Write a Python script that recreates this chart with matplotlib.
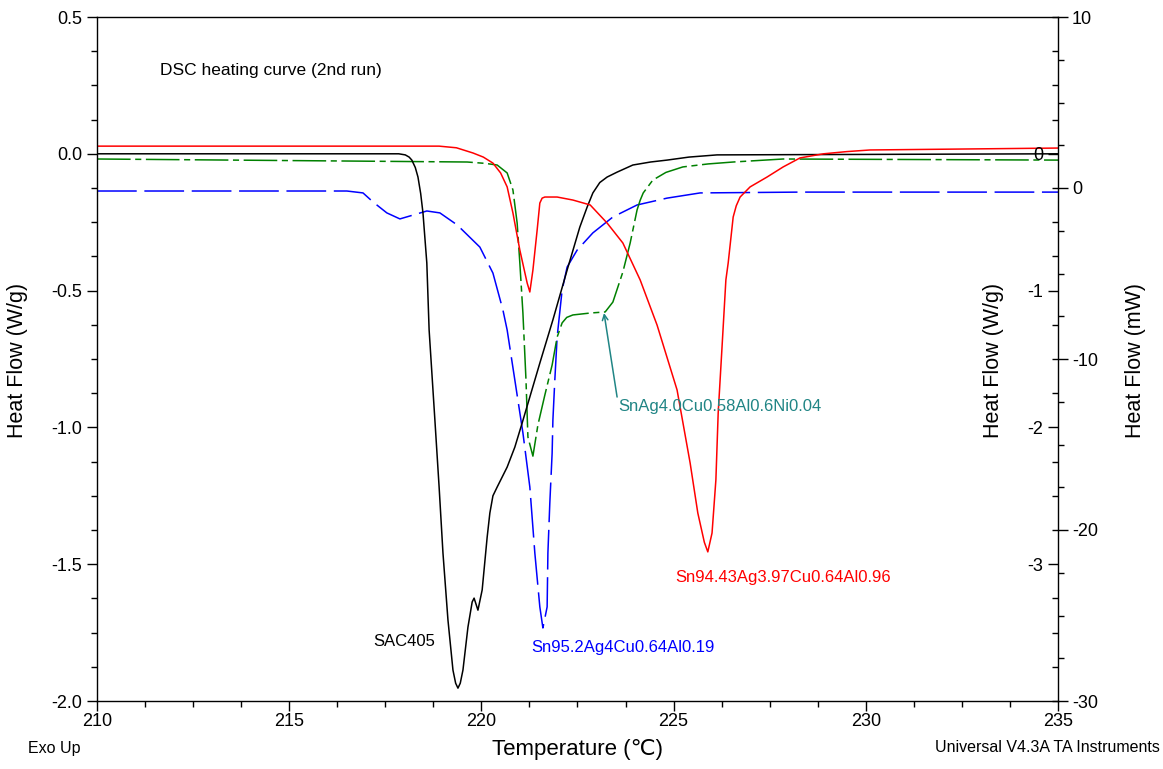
import matplotlib
matplotlib.use('Agg')
import matplotlib.pyplot as plt
from matplotlib.ticker import MultipleLocator

plt.rcParams['font.family'] = ['Liberation Sans', 'DejaVu Sans']
plt.rcParams['axes.unicode_minus'] = False

# SAC405 (black, solid)
sac_temp = [210.0, 217.85, 218.02, 218.12, 218.19, 218.28, 218.35, 218.42, 218.48, 218.58,
            218.64, 218.79, 218.90, 219.00, 219.13, 219.26, 219.33, 219.39, 219.45, 219.52,
            219.65, 219.76, 219.81, 219.91, 220.02, 220.15, 220.22, 220.30, 220.41, 220.67,
            220.87, 221.06, 221.52, 221.86, 222.23, 222.56, 222.75, 222.90, 223.08, 223.27,
            223.53, 223.94, 224.40, 224.83, 225.40, 226.13, 235.0]
sac_flow = [0.0, 0.0, -0.004, -0.012, -0.023, -0.050, -0.085, -0.145, -0.216, -0.399,
            -0.644, -0.973, -1.218, -1.459, -1.704, -1.887, -1.935, -1.953, -1.935, -1.887,
            -1.730, -1.638, -1.624, -1.668, -1.594, -1.401, -1.313, -1.250, -1.218, -1.145,
            -1.072, -0.984, -0.765, -0.607, -0.425, -0.268, -0.195, -0.143, -0.105, -0.085,
            -0.067, -0.041, -0.030, -0.023, -0.012, -0.004, 0.0]

# Sn94.43Ag3.97Cu0.64Al0.96 (red, solid)
red_temp = [210.0, 218.9, 219.35, 219.78, 220.05, 220.30, 220.50, 220.67, 220.82, 221.00,
            221.19, 221.26, 221.34, 221.45, 221.52, 221.58, 221.65, 221.97, 222.38, 222.83,
            223.27, 223.68, 224.13, 224.57, 225.09, 225.43, 225.63, 225.80, 225.89, 226.00,
            226.10, 226.16, 226.26, 226.36, 226.42, 226.55, 226.63, 226.73, 226.99, 227.43,
            227.85, 228.29, 228.90, 229.50, 230.11, 235.0]
red_flow = [0.028, 0.028, 0.022, 0.003, -0.012, -0.034, -0.070, -0.121, -0.216, -0.352,
            -0.472, -0.505, -0.425, -0.279, -0.180, -0.162, -0.158, -0.158, -0.169, -0.187,
            -0.253, -0.326, -0.461, -0.626, -0.863, -1.130, -1.313, -1.420, -1.455, -1.386,
            -1.192, -0.947, -0.706, -0.461, -0.399, -0.231, -0.190, -0.158, -0.121, -0.085,
            -0.048, -0.015, 0.000, 0.008, 0.014, 0.021]

# SnAg4.0Cu0.58Al0.6Ni0.04 (green, dash-dot)
grn_temp = [210.0, 219.63, 220.10, 220.41, 220.67, 220.82, 220.93, 221.00, 221.08, 221.16,
            221.21, 221.34, 221.47, 221.65, 221.84, 221.97, 222.10, 222.22, 222.38, 222.83,
            223.22, 223.42, 223.68, 223.87, 224.05, 224.13, 224.21, 224.46, 224.80, 225.24,
            225.90, 226.55, 227.85, 235.0]
grn_flow = [-0.019, -0.030, -0.035, -0.041, -0.070, -0.132, -0.253, -0.399, -0.582, -0.827,
            -1.035, -1.105, -0.991, -0.882, -0.772, -0.670, -0.618, -0.598, -0.589, -0.582,
            -0.578, -0.542, -0.432, -0.326, -0.205, -0.170, -0.143, -0.096, -0.068, -0.048,
            -0.037, -0.030, -0.019, -0.023]

# Sn95.2Ag4Cu0.64Al0.19 (blue, long dash)
blu_temp = [210.0, 216.50, 216.92, 217.18, 217.54, 217.88, 218.22, 218.58, 218.92, 219.37,
            219.96, 220.30, 220.56, 220.67, 220.87, 221.08, 221.26, 221.39, 221.52, 221.60,
            221.71, 221.73, 221.78, 221.84, 221.86, 221.91, 221.97, 222.10, 222.23, 222.49,
            222.90, 223.42, 224.05, 224.83, 225.69, 228.29, 235.0]
blu_flow = [-0.136, -0.136, -0.143, -0.176, -0.216, -0.238, -0.224, -0.209, -0.216, -0.260,
            -0.341, -0.436, -0.571, -0.644, -0.827, -1.020, -1.218, -1.459, -1.656, -1.733,
            -1.656, -1.459, -1.276, -1.094, -0.973, -0.827, -0.670, -0.498, -0.414, -0.352,
            -0.289, -0.231, -0.187, -0.162, -0.143, -0.140, -0.140]

TEAL = "#208585"

fig = plt.figure(figsize=(11.63, 7.69), dpi=100)
ax = fig.add_axes([97 / 1163, 1 - 701 / 769, 961 / 1163, 684 / 769])

ax.plot(blu_temp, blu_flow, color="#0000ff", lw=1.1, linestyle=(0, (26, 5)))
ax.plot(grn_temp, grn_flow, color="#008000", lw=1.1, linestyle=(0, (22, 3, 4, 3)))
ax.plot(sac_temp, sac_flow, color="black", lw=1.1)
ax.plot(red_temp, red_flow, color="#ff0000", lw=1.1)

ax.set_xlim(210, 235)
ax.set_ylim(-2.0, 0.5)
ax.xaxis.set_major_locator(MultipleLocator(5))
ax.xaxis.set_minor_locator(MultipleLocator(1.25))
ax.yaxis.set_major_locator(MultipleLocator(0.5))
ax.yaxis.set_minor_locator(MultipleLocator(0.125))
ax.yaxis.set_major_formatter(lambda v, p: f"{v:.1f}")
ax.tick_params(axis='both', which='major', direction='out', length=7, width=1, labelsize=13)
ax.tick_params(axis='both', which='minor', direction='out', length=4, width=1)
ax.tick_params(axis='x', pad=2)
for sp in ax.spines.values():
    sp.set_linewidth(1.0)

# inner right axis in W/g, labels inside the frame
ax2 = ax.twinx()
ax2.set_ylim(-4, 1)
ax2.set_yticks([-3, -2, -1, 0])
ax2.yaxis.set_minor_locator(MultipleLocator(0.25))
ax2.tick_params(axis='y', which='major', direction='in', length=7, width=1,
                labelsize=13, pad=-10.8)
ax2.tick_params(axis='y', which='minor', direction='in', length=4, width=1)
for lab in ax2.get_yticklabels():
    lab.set_horizontalalignment('right')
for sp in ax2.spines.values():
    sp.set_visible(False)

# outer right axis in mW
ax3 = ax.twinx()
ax3.set_ylim(-30, 10)
ax3.yaxis.set_major_locator(MultipleLocator(10))
ax3.yaxis.set_minor_locator(MultipleLocator(2.5))
ax3.tick_params(axis='y', which='major', direction='out', length=7, width=1,
                labelsize=13, pad=3)
ax3.tick_params(axis='y', which='minor', direction='out', length=4, width=1)
for sp in ax3.spines.values():
    sp.set_visible(False)

# curve labels
ax.text(211.64, 0.303, "DSC heating curve (2nd run)", fontsize=12.5, va='center')
ax.text(217.18, -1.781, "SAC405", fontsize=12, va='center', color="black")
ax.text(221.29, -1.806, "Sn95.2Ag4Cu0.64Al0.19", fontsize=12, va='center', color="#0000ff")
ax.text(225.04, -1.547, "Sn94.43Ag3.97Cu0.64Al0.96", fontsize=12, va='center', color="#ff0000")
ax.text(223.55, -0.925, "SnAg4.0Cu0.58Al0.6Ni0.04", fontsize=12, va='center', color=TEAL)
ax.annotate("", xy=(223.19, -0.582), xytext=(223.53, -0.889),
            arrowprops=dict(arrowstyle='->', color=TEAL, lw=1.1,
                            shrinkA=0, shrinkB=0))

# axis titles
fig.text(18 / 1163, 1 - 360 / 769, "Heat Flow (W/g)", rotation=90,
         ha='center', va='center', fontsize=15.5)
fig.text(993 / 1163, 1 - 360 / 769, "Heat Flow (W/g)", rotation=90,
         ha='center', va='center', fontsize=15.5)
fig.text(1135 / 1163, 1 - 360 / 769, "Heat Flow (mW)", rotation=90,
         ha='center', va='center', fontsize=15.5)
fig.text(577 / 1163, 1 - 749 / 769, "Temperature (\u2103)", ha='center', va='center',
         fontsize=16)
fig.text(28 / 1163, 1 - 748 / 769, "Exo Up", ha='left', va='center', fontsize=11.5)
fig.text(1160 / 1163, 1 - 748 / 769, "Universal V4.3A TA Instruments", ha='right',
         va='center', fontsize=11.5)

fig.savefig("out.png", dpi=100)
